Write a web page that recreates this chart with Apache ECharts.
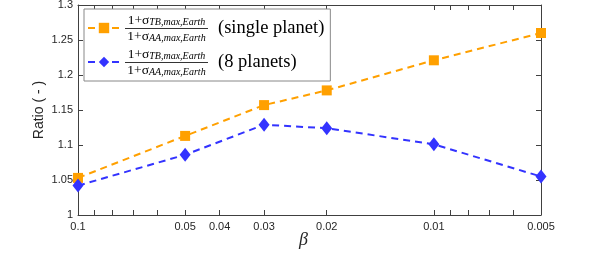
<!DOCTYPE html>
<html>
<head>
<meta charset="utf-8">
<script src="https://cdn.jsdelivr.net/npm/echarts@6/dist/echarts.min.js"></script>
<style>html,body{margin:0;padding:0;background:#fff}#c{width:598px;height:253px}</style>
</head>
<body>
<div id="c"></div>
<script>
// ---- data ----
const betas = [0.1, 0.05, 0.03, 0.02, 0.01, 0.005];
const singlePlanet = [1.053, 1.113, 1.157, 1.178, 1.221, 1.260];
const eightPlanets = [1.042, 1.086, 1.129, 1.124, 1.101, 1.055];
const xTickLabels = [0.1, 0.05, 0.04, 0.03, 0.02, 0.01, 0.005];
const xTicks = [0.1, 0.09, 0.08, 0.07, 0.06, 0.05, 0.04, 0.03, 0.02, 0.01, 0.009, 0.008, 0.007, 0.006, 0.005];
const seriesNames = ['single', 'eight'];
const seriesLabels = ['(single planet)', '(8 planets)'];
const fracNum = ['1+σ', 'TB,max,Earth'];
const fracDen = ['1+σ', 'AA,max,Earth'];

const axisColor = '#404040';
const labelColor = '#262626';
const fmt = v => String(parseFloat(Number(v).toPrecision(6)));

const legendLeft = 84, legendTop = 9, legendPad = [2, 6, 2, 3], itemH = 34;
const fracX0 = 125, fracX1 = 208;

const graphics = [];
seriesNames.forEach((n, i) => {
  const yc = legendTop + legendPad[0] + itemH * (i + 0.5);
  const cx = (fracX0 + fracX1) / 2;
  const rich = {
    a: {fontFamily: 'Liberation Serif', fontSize: 13.5, fill: '#000'},
    b: {fontFamily: 'Liberation Serif', fontStyle: 'italic', fontSize: 10, fill: '#000', padding: [4, 0, 0, 0]}
  };
  graphics.push({type: 'text', z: 100, style: {text: '{a|' + fracNum[0] + '}{b|' + fracNum[1] + '}', rich, x: cx, y: yc - 0.5, align: 'center', verticalAlign: 'bottom'}});
  graphics.push({type: 'line', z: 100, shape: {x1: fracX0, y1: yc + 0.5, x2: fracX1, y2: yc + 0.5}, style: {stroke: '#000', lineWidth: 0.8}});
  graphics.push({type: 'text', z: 100, style: {text: '{a|' + fracDen[0] + '}{b|' + fracDen[1] + '}', rich, x: cx, y: yc + 1.5, align: 'center', verticalAlign: 'top'}});
});

const xAxisBase = {
  type: 'log', logBase: 10, min: 0.005, max: 0.1, inverse: true,
  axisLine: {show: true, lineStyle: {color: axisColor, width: 1}},
  axisTick: {show: true, inside: true, length: 5, lineStyle: {color: axisColor}, customValues: xTicks},
  minorTick: {show: false}, splitLine: {show: false}
};

const chart = echarts.init(document.getElementById('c'), null, {renderer: 'canvas'});
chart.setOption({
  animation: false,
  backgroundColor: '#fff',
  grid: {left: 78, right: 57, top: 5, bottom: 38, containLabel: false, outerBoundsMode: 'none'},
  xAxis: [
    Object.assign({}, xAxisBase, {
      position: 'bottom',
      name: 'β', nameLocation: 'middle', nameGap: 16, nameMoveOverlap: false,
      nameTextStyle: {fontFamily: 'Liberation Serif', fontStyle: 'italic', fontSize: 18, color: labelColor, padding: [0, 12, 0, 0]},
      axisLabel: {show: true, customValues: xTickLabels, formatter: fmt, color: labelColor, fontFamily: 'Liberation Sans', fontSize: 11, margin: 6}
    }),
    Object.assign({}, xAxisBase, {position: 'top', axisLabel: {show: false}})
  ],
  yAxis: [
    {
      type: 'value', min: 1, max: 1.3, interval: 0.05, position: 'left',
      name: 'Ratio ( - )', nameLocation: 'middle', nameGap: 32, nameMoveOverlap: false,
      nameTextStyle: {fontFamily: 'Liberation Sans', fontSize: 14, color: labelColor},
      axisLine: {show: true, lineStyle: {color: axisColor}},
      axisTick: {show: true, inside: true, length: 5, lineStyle: {color: axisColor}},
      axisLabel: {color: labelColor, fontFamily: 'Liberation Sans', fontSize: 11, margin: 5},
      splitLine: {show: false}
    },
    {
      type: 'value', min: 1, max: 1.3, interval: 0.05, position: 'right',
      axisLine: {show: true, lineStyle: {color: axisColor}},
      axisTick: {show: true, inside: true, length: 5, lineStyle: {color: axisColor}},
      axisLabel: {show: false}, splitLine: {show: false}
    }
  ],
  legend: {
    orient: 'vertical', left: legendLeft, top: legendTop, padding: legendPad, itemGap: 0,
    itemWidth: 32, itemHeight: 13,
    backgroundColor: '#fff', borderColor: '#888', borderWidth: 1,
    data: seriesNames,
    formatter: name => '{f| }{t|' + seriesLabels[seriesNames.indexOf(name)] + '}',
    textStyle: {
      lineHeight: itemH,
      rich: {
        f: {width: 93, height: itemH, lineHeight: itemH},
        t: {fontFamily: 'Liberation Serif', fontSize: 18.5, color: '#000', lineHeight: itemH}
      }
    }
  },
  graphic: graphics,
  series: [
    {
      name: seriesNames[0], type: 'line', xAxisIndex: 0, yAxisIndex: 0,
      data: betas.map((b, i) => [b, singlePlanet[i]]),
      symbol: 'rect', symbolSize: 10,
      lineStyle: {color: '#FFA000', width: 2, type: [7, 5]},
      itemStyle: {color: '#FFA000'}
    },
    {
      name: seriesNames[1], type: 'line', xAxisIndex: 0, yAxisIndex: 0,
      data: betas.map((b, i) => [b, eightPlanets[i]]),
      symbol: 'diamond', symbolSize: [11, 14],
      lineStyle: {color: '#3333FF', width: 2, type: [7, 5]},
      itemStyle: {color: '#3333FF'}
    }
  ]
});
</script>
</body>
</html>
